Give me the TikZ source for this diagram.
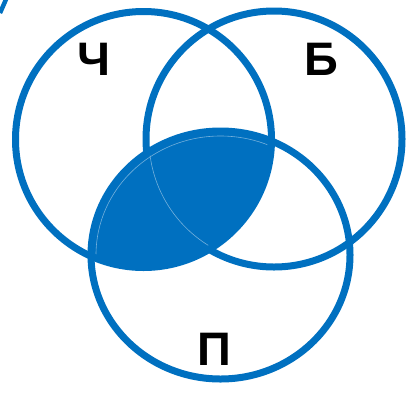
\documentclass[tikz,border=0pt]{standalone}
\usepackage{fontspec}
\setmainfont{Liberation Sans}
\definecolor{vblue}{HTML}{0070C0}
\begin{document}
\begin{tikzpicture}[x=1pt,y=-1pt,
  ring/.style={draw=vblue,line width=7pt},
  seam/.style={draw=vblue!55!white,line width=0.6pt},
  lbl/.style={font=\bfseries\fontsize{47}{47}\selectfont,inner sep=0pt,text=black}]
\useasboundingbox (0,0) rectangle (406,394);
\coordinate (C) at (143.5,139.5);
\coordinate (B) at (274,139);
\coordinate (P) at (220.5,255);
% filled intersection
\begin{scope}
  \clip (C) circle (128pt);
  \fill[vblue] (P) ellipse [x radius=129.5pt, y radius=124pt];
\end{scope}
% circles
\draw[ring] (C) circle (128pt);
\draw[ring] (B) circle (128pt);
\draw[ring] (P) ellipse [x radius=129.5pt, y radius=124pt];
% faint seams inside the filled area
\begin{scope}
  \clip (C) circle (124pt);
  \clip (P) ellipse [x radius=125.5pt, y radius=120pt];
  \draw[seam] (B) circle (125pt);
  \draw[seam] (P) ellipse [x radius=124.5pt, y radius=119pt];
\end{scope}
% partial arc at top-left corner
\begin{scope}
  \clip (0,0) rectangle (406,394);
  \draw[vblue,line width=4.5pt] (7,-3) .. controls (4,4) .. (0,13);
\end{scope}
% labels
\node[lbl] (lc) at (94,59) {Ч};
\node[lbl] (lb) at (321.5,59) {Б};
\node[lbl] (lp) at (214.5,349) {П};
\end{tikzpicture}
\end{document}
